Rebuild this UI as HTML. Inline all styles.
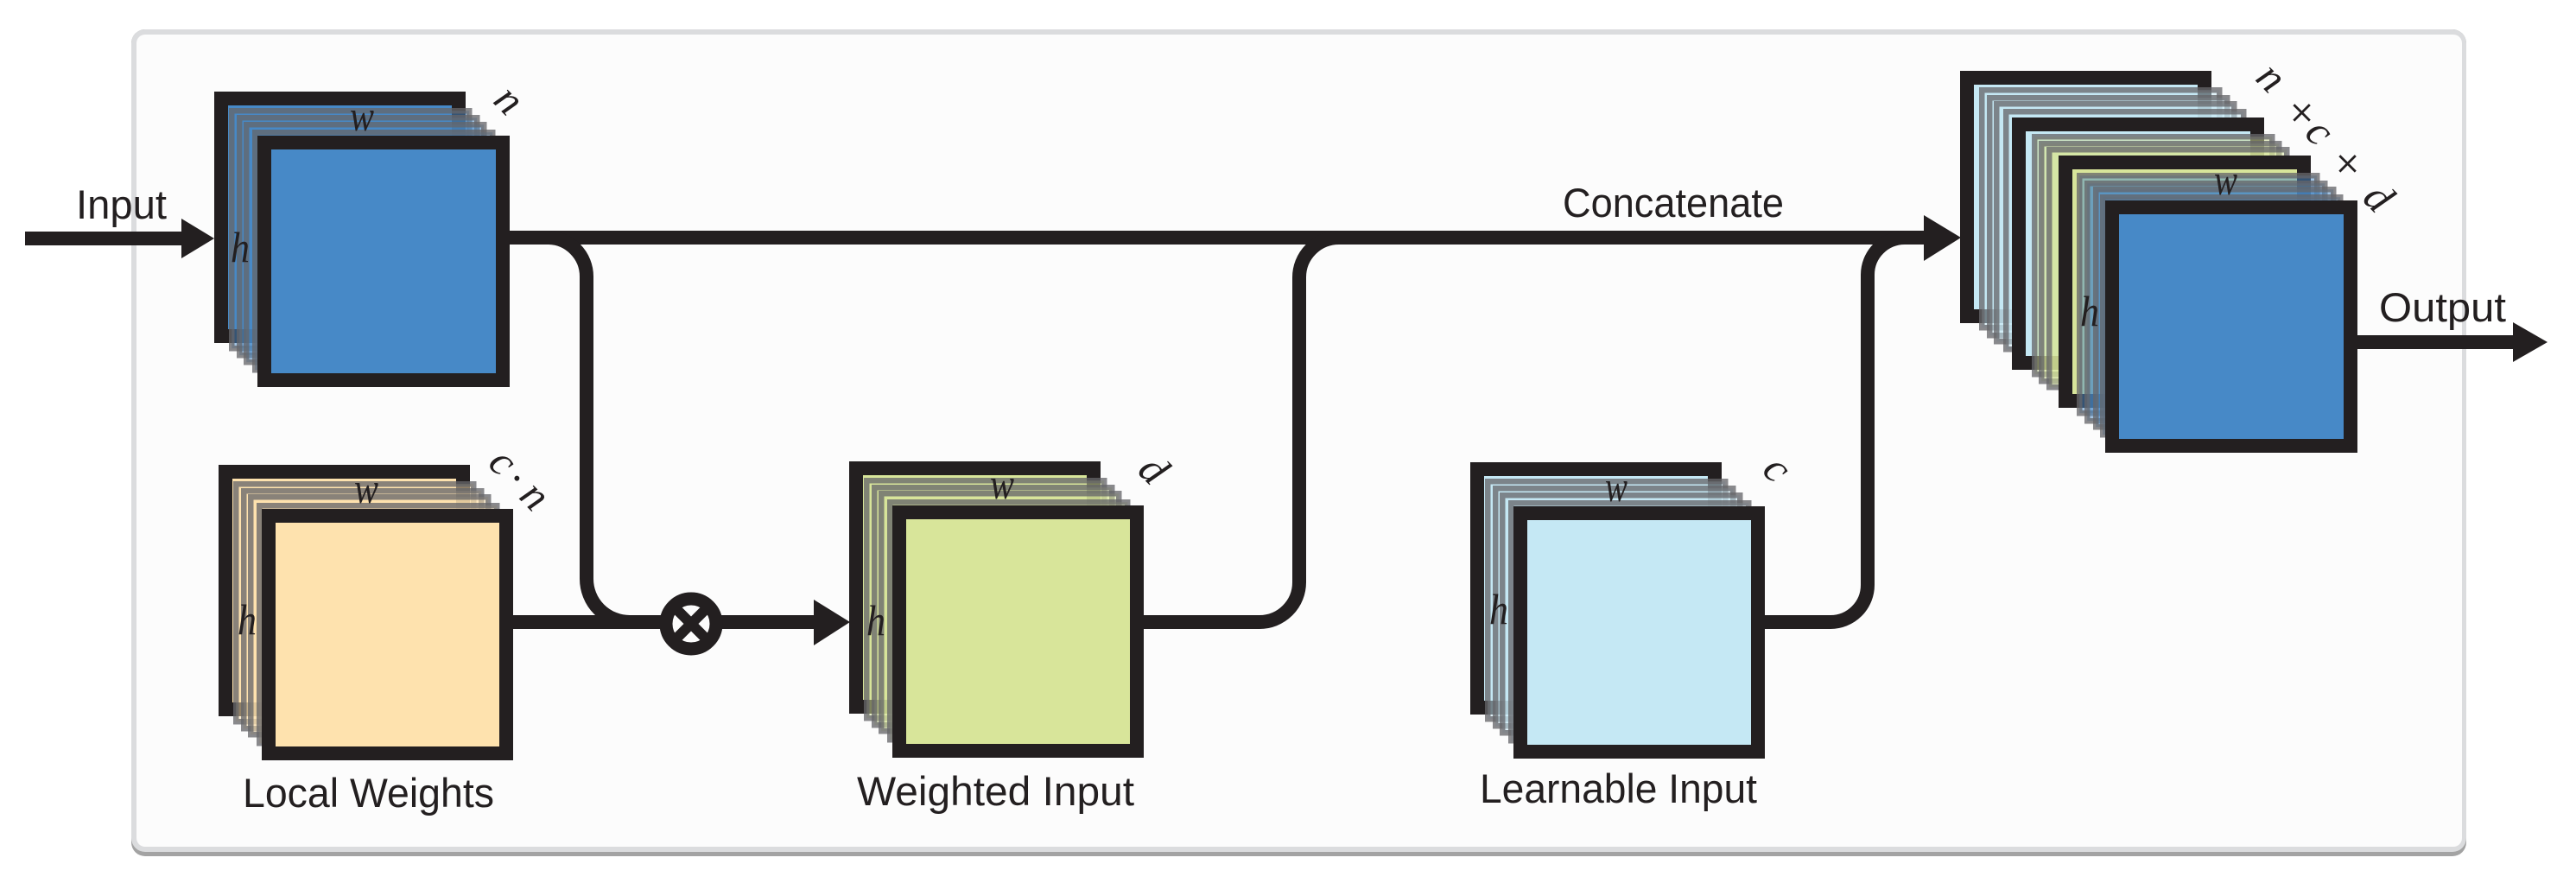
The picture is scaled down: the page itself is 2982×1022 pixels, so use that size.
<!DOCTYPE html>
<html>
<head>
<meta charset="utf-8">
<style>
html,body{margin:0;padding:0;background:#fff;}
svg{display:block;}
.t{font-family:"Liberation Sans",sans-serif;font-size:47px;fill:#231f20;}
.m{font-family:"Liberation Serif",serif;font-style:italic;font-size:50px;fill:#231f20;}
.r{font-family:"Liberation Serif",serif;font-style:italic;font-size:50px;fill:#231f20;text-anchor:middle;}
.b{stroke:#231f20;stroke-width:16;}
.l{stroke:#65656a;stroke-opacity:.77;stroke-width:6.5;fill-opacity:.5;}
.c1{fill:#4789c7;}
.c2{fill:#fee2ae;}
.c3{fill:#d8e59a;}
.c4{fill:#c5e8f4;}
.w{stroke:#231f20;stroke-width:16;fill:none;}
.a{fill:#231f20;}
</style>
</head>
<body>
<svg width="2982" height="1022" viewBox="0 0 2982 1022" xmlns="http://www.w3.org/2000/svg">
<rect x="0" y="0" width="2982" height="1022" fill="#ffffff"/>
<!-- panel -->
<rect x="152" y="34" width="2703" height="957" rx="16" fill="#a3a3a3"/>
<rect x="152" y="34" width="2703" height="952" rx="16" fill="#dbdcde"/>
<rect x="158" y="40" width="2692" height="940" rx="10" fill="#fcfcfc"/>

<!-- connectors -->
<path class="w" d="M590,275 H2230"/>
<path class="w" d="M634,275 A45,45 0 0 1 679,320 V670 A50,50 0 0 0 729,720"/>
<path class="w" d="M594,720 H945"/>
<path class="w" d="M1324,720 H1458 A46,46 0 0 0 1504,674 V321 A46,46 0 0 1 1550,275"/>
<path class="w" d="M2043,720 H2119 A43,43 0 0 0 2162,677 V318 A43,43 0 0 1 2205,275"/>
<path class="w" d="M29,276 H212"/>
<path class="w" d="M2729,396 H2912"/>
<polygon class="a" points="210,253 248,276 210,299"/>
<polygon class="a" points="942,694 984,720 942,747"/>
<polygon class="a" points="2227,249 2270,275 2227,302"/>
<polygon class="a" points="2909,373 2949,396 2909,419"/>

<!-- op -->
<circle cx="800" cy="722" r="29" fill="#fcfcfc" stroke="#231f20" stroke-width="15"/>
<path d="M782,704 L818,740 M818,704 L782,740" stroke="#231f20" stroke-width="12" fill="none"/>

<!-- stack 1 -->
<rect class="b c1" x="256" y="114" width="275" height="275"/>
<rect class="l c1" x="268.25" y="128.25" width="275" height="275"/>
<rect class="l c1" x="277.25" y="136.25" width="275" height="275"/>
<rect class="l c1" x="285.25" y="144.25" width="275" height="275"/>
<rect class="l c1" x="295.25" y="153.25" width="275" height="275"/>
<rect class="b c1" x="306" y="165" width="276" height="275"/>

<!-- local weights -->
<rect class="b c2" x="261" y="546" width="275" height="275"/>
<rect class="l c2" x="273.25" y="560.25" width="275" height="275"/>
<rect class="l c2" x="282.25" y="568.25" width="275" height="275"/>
<rect class="l c2" x="290.25" y="575.25" width="275" height="275"/>
<rect class="l c2" x="300.25" y="585.25" width="275" height="275"/>
<rect class="b c2" x="311" y="597" width="275" height="275"/>

<!-- weighted input -->
<rect class="b c3" x="991" y="542" width="275" height="276"/>
<rect class="l c3" x="1003.25" y="556.25" width="275" height="275"/>
<rect class="l c3" x="1012.25" y="564.25" width="275" height="275"/>
<rect class="l c3" x="1020.25" y="571.25" width="275" height="275"/>
<rect class="l c3" x="1030.25" y="581.25" width="275" height="275"/>
<rect class="b c3" x="1041" y="593" width="275" height="276"/>

<!-- learnable -->
<rect class="b c4" x="1710" y="543" width="275" height="276"/>
<rect class="l c4" x="1722.25" y="557.25" width="275" height="275"/>
<rect class="l c4" x="1731.25" y="565.25" width="275" height="275"/>
<rect class="l c4" x="1739.25" y="573.25" width="275" height="275"/>
<rect class="l c4" x="1749.25" y="582.25" width="275" height="275"/>
<rect class="b c4" x="1760" y="594" width="275" height="276"/>

<!-- output stack -->
<rect class="b c4" x="2277" y="90" width="275" height="276"/>
<rect class="l c4" x="2294.25" y="104.25" width="275" height="275"/>
<rect class="l c4" x="2303.25" y="113.25" width="275" height="275"/>
<rect class="l c4" x="2311.25" y="120.25" width="275" height="275"/>
<rect class="l c4" x="2322.25" y="129.25" width="275" height="275"/>
<rect class="b c4" x="2337" y="144" width="276" height="276"/>
<rect class="l c3" x="2355.25" y="158.25" width="275" height="275"/>
<rect class="l c3" x="2363.25" y="166.25" width="275" height="275"/>
<rect class="l c3" x="2372.25" y="173.25" width="275" height="275"/>
<rect class="b c3" x="2391" y="188" width="276" height="276"/>
<rect class="l c1" x="2407.25" y="203.25" width="275" height="275"/>
<rect class="l c1" x="2416.25" y="212.25" width="275" height="275"/>
<rect class="l c1" x="2426.25" y="219.25" width="275" height="275"/>
<rect class="l c1" x="2434.25" y="228.25" width="275" height="275"/>
<rect class="b c1" x="2445" y="240" width="276" height="276"/>

<!-- labels -->
<text class="t" x="88" y="253" textLength="105" lengthAdjust="spacingAndGlyphs">Input</text>
<text class="t" x="1809" y="251" textLength="256" lengthAdjust="spacingAndGlyphs">Concatenate</text>
<text class="t" x="2754" y="372" textLength="147" lengthAdjust="spacingAndGlyphs">Output</text>
<text class="t" x="281" y="934" textLength="291" lengthAdjust="spacingAndGlyphs">Local Weights</text>
<text class="t" x="992" y="932" textLength="321" lengthAdjust="spacingAndGlyphs">Weighted Input</text>
<text class="t" x="1713" y="929" textLength="321" lengthAdjust="spacingAndGlyphs">Learnable Input</text>

<!-- math labels -->
<text class="m" x="405" y="151" textLength="28" lengthAdjust="spacingAndGlyphs">w</text>
<text class="m" x="267" y="303" textLength="22" lengthAdjust="spacingAndGlyphs">h</text>
<text class="m" x="410" y="582" textLength="28" lengthAdjust="spacingAndGlyphs">w</text>
<text class="m" x="275" y="734" textLength="22" lengthAdjust="spacingAndGlyphs">h</text>
<text class="m" x="1146" y="577" textLength="28" lengthAdjust="spacingAndGlyphs">w</text>
<text class="m" x="1003" y="735" textLength="22" lengthAdjust="spacingAndGlyphs">h</text>
<text class="m" x="1858" y="580" textLength="26" lengthAdjust="spacingAndGlyphs">w</text>
<text class="m" x="1724" y="722" textLength="22" lengthAdjust="spacingAndGlyphs">h</text>
<text class="m" x="2563" y="225" textLength="27" lengthAdjust="spacingAndGlyphs">w</text>
<text class="m" x="2408" y="377" textLength="22" lengthAdjust="spacingAndGlyphs">h</text>

<text class="r" transform="translate(586,119) rotate(45)" y="11">n</text>
<text class="r" transform="translate(579,538) rotate(45)" y="11">c</text>
<text class="r" transform="translate(594,557) rotate(45)" y="11">·</text>
<text class="r" transform="translate(616,577) rotate(45)" y="11">n</text>
<text class="r" transform="translate(1334,545) rotate(45)" y="14">d</text>
<text class="r" transform="translate(2054,546) rotate(45)" y="11">c</text>
<text class="r" transform="translate(2626,93) rotate(45)" y="11">n</text>
<text class="r" transform="translate(2662,133) rotate(45)" y="15" style="font-style:normal;font-size:56px">+</text>
<text class="r" transform="translate(2682,156) rotate(45)" y="11">c</text>
<text class="r" transform="translate(2715,192) rotate(45)" y="15" style="font-style:normal;font-size:56px">+</text>
<text class="r" transform="translate(2752,230) rotate(45)" y="14">d</text>
</svg>
</body>
</html>
